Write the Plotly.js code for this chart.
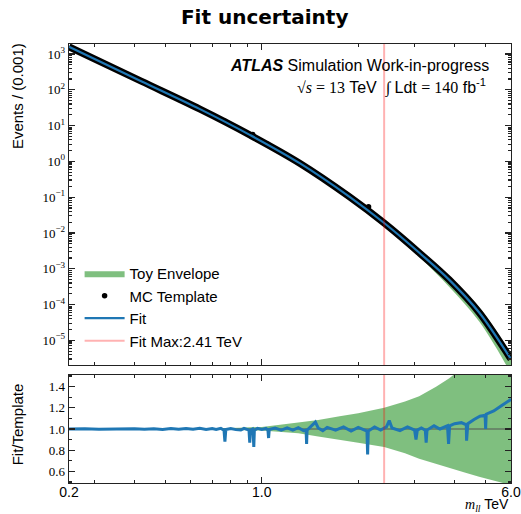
<!DOCTYPE html>
<html><head><meta charset="utf-8">
<script src="https://cdn.plot.ly/plotly-3.0.1.min.js"></script>
<style>html,body{margin:0;padding:0;background:#fff}#chart{width:521px;height:514px}</style>
</head><body><div id="chart"></div><script>
// ---- data ----
const xLimits = [0.25, 6.0];
const xTickVals = [0.25, 1.0, 6.0];
const xTickText = ['0.2', '1.0', '6.0'];
const yTickVals = [1e-5, 1e-4, 1e-3, 1e-2, 1e-1, 1, 10, 100, 1000];
const yTickText = ['10<sup>\u22125</sup>','10<sup>\u22124</sup>','10<sup>\u22123</sup>','10<sup>\u22122</sup>','10<sup>\u22121</sup>','10<sup>0</sup>','10<sup>1</sup>','10<sup>2</sup>','10<sup>3</sup>'];
const yLimits = [2.05e-6, 1900];
const ratioLimits = [0.49, 1.51];
const ratioTickVals = [0.6, 0.8, 1.0, 1.2, 1.4];
const fitMax = 2.41;

const massX     = [0.25, 0.42, 0.641, 0.917, 1.313, 1.88, 2.41, 3.11, 3.85, 4.78, 5.93, 6.0];
const fitY      = [1585, 174, 28.8, 5.5, 0.89, 0.102, 0.019, 0.00275, 0.00049, 5.9e-5, 3.5e-6, 3.0e-6];
const templateY = [1585, 174, 28.8, 5.5, 0.89, 0.102, 0.019, 0.00275, 0.00049, 5.9e-5, 3.5e-6, 3.0e-6];
const envTopLo  = [1580, 173, 28.6, 5.45, 0.86, 0.090, 0.0155, 0.0021, 0.00031, 3.3e-5, 1.4e-6, 1.1e-6];
const envTopUp  = [1590, 175, 29.0, 5.55, 0.92, 0.112, 0.022, 0.0032, 0.00061, 8.3e-5, 5.2e-6, 4.5e-6];

const templateDotX = [0.767, 0.937, 1.044, 1.381, 2.154];
const templateDotY = [13.2, 5.6, 3.0, 0.66, 0.054];

const envRatioX  = [0.25, 0.5, 0.7, 0.85, 1.0, 1.14, 1.3, 1.5, 1.75, 2.0, 2.41, 2.8, 3.1, 3.5, 3.85, 4.3, 4.77, 5.4, 6.0];
const envRatioUp = [1.003, 1.004, 1.006, 1.012, 1.02, 1.04, 1.06, 1.085, 1.12, 1.15, 1.2, 1.26, 1.31, 1.4, 1.48, 1.6, 1.7, 1.8, 1.9];
const envRatioLo = [0.997, 0.996, 0.994, 0.99, 0.985, 0.975, 0.96, 0.93, 0.9, 0.87, 0.83, 0.77, 0.72, 0.67, 0.63, 0.59, 0.55, 0.51, 0.47];

const ratioX = [0.25,0.28,0.31,0.34,0.37,0.40,0.43,0.46,0.49,0.52,0.55,0.58,0.61,0.64,0.67,0.70,
  0.72,0.745,0.762,0.767,0.772,0.80,0.83,0.86,0.88,0.90,0.912,0.917,0.922,0.935,0.94,0.944,0.948,0.97,
  1.0,1.03,1.045,1.05,1.055,1.1,1.15,1.2,1.25,1.3,1.35,1.375,1.38,1.385,1.42,1.47,1.5,1.55,1.6,1.7,1.8,1.9,
  2.0,2.1,2.13,2.14,2.15,2.25,2.35,2.45,2.5,2.55,2.7,2.85,3.0,3.03,3.06,3.15,3.24,3.26,3.28,3.45,3.6,3.8,
  3.83,3.86,4.0,4.2,4.35,4.36,4.4,4.6,4.8,4.98,5.0,5.02,5.3,5.6,6.0];
const ratioY = [1.0,1.003,0.998,1.002,0.999,1.003,0.997,1.002,0.996,1.004,0.998,1.005,0.997,1.006,0.996,1.004,
  0.995,1.006,0.99,0.88,0.995,1.005,0.994,0.99,1.006,0.993,0.99,0.87,0.99,1.0,0.96,0.83,0.99,1.006,
  0.995,1.005,0.99,0.915,0.995,1.008,0.99,1.01,0.99,1.012,0.985,0.99,0.86,0.99,1.02,1.065,1.01,0.985,1.015,0.99,1.02,0.98,
  1.015,0.985,0.98,0.76,0.98,1.02,0.99,1.02,1.08,1.01,0.985,1.02,0.99,0.9,0.99,1.01,0.99,0.87,0.99,1.03,1.0,1.03,
  0.86,1.03,1.05,1.06,1.04,0.89,1.05,1.09,1.12,1.13,1.0,1.14,1.17,1.22,1.28];
const refLine = [1.0, 1.0];

// ---- traces ----
const green = 'rgba(0,128,0,0.5)';
const blue = '#1f77b4';
const pink = 'rgba(255,0,0,0.3)';
const traces = [
  {x: massX, y: envTopLo, mode:'lines', line:{width:0, color:green, shape:'spline', smoothing:1}, showlegend:false, hoverinfo:'skip', xaxis:'x', yaxis:'y', legendgroup:'a'},
  {x: massX, y: envTopUp, mode:'lines', line:{width:0, color:green, shape:'spline', smoothing:1}, fill:'tonexty', fillcolor:green, name:'Toy Envelope', xaxis:'x', yaxis:'y', legendgroup:'a'},
  {x: massX, y: templateY, mode:'lines', line:{width:7, color:'#000', shape:'spline', smoothing:1}, showlegend:false, xaxis:'x', yaxis:'y', legendgroup:'b'},
  {x: templateDotX, y: templateDotY, mode:'markers', marker:{size:5.5, color:'#000'}, name:'MC Template', xaxis:'x', yaxis:'y', legendgroup:'b'},
  {x: massX, y: fitY, mode:'lines', line:{width:2.2, color:blue, shape:'spline', smoothing:1}, name:'Fit', xaxis:'x', yaxis:'y', legendgroup:'c'},
  {x: [fitMax, fitMax], y: yLimits, mode:'lines', line:{width:2, color:pink}, name:'Fit Max:2.41 TeV', xaxis:'x', yaxis:'y', legendgroup:'d'},
  // ratio panel
  {x: envRatioX, y: envRatioLo, mode:'lines', line:{width:0, color:green}, showlegend:false, xaxis:'x2', yaxis:'y2'},
  {x: envRatioX, y: envRatioUp, mode:'lines', line:{width:0, color:green}, fill:'tonexty', fillcolor:green, showlegend:false, xaxis:'x2', yaxis:'y2'},
  {x: xLimits, y: refLine, mode:'lines', line:{width:1.2, color:'#555'}, showlegend:false, xaxis:'x2', yaxis:'y2'},
  {x: ratioX, y: ratioY, mode:'lines', line:{width:3, color:blue}, showlegend:false, xaxis:'x2', yaxis:'y2'},
  {x: [fitMax, fitMax], y: ratioLimits, mode:'lines', line:{width:2, color:pink}, showlegend:false, xaxis:'x2', yaxis:'y2'}
];

// ---- layout ----
const L = Math.log10;
const minorX = [0.3,0.4,0.5,0.6,0.7,0.8,0.9,2,3,4,5];
const minorY = [];
for (let e = -6; e <= 3; e++) for (let d = 2; d <= 9; d++) minorY.push(d * Math.pow(10, e));
const axCommon = {showline:true, mirror:'allticks', linecolor:'#222', linewidth:1.3, ticks:'inside',
  ticklen:6, tickwidth:1.2, tickcolor:'#222', showgrid:false, zeroline:false};
const serif = 'Liberation Serif, DejaVu Serif, serif';
const sans = 'Liberation Sans, Arial, sans-serif';

const layout = {
  width:521, height:514,
  margin:{l:69, r:10, t:44, b:31},
  paper_bgcolor:'#fff', plot_bgcolor:'#fff',
  font:{family:sans, color:'#000', size:14},
  showlegend:true,
  title:{text:'<b>Fit uncertainty</b>', font:{family:'DejaVu Sans, sans-serif', size:20, color:'#000'},
    x:0.508, xref:'container', xanchor:'center', y:0.966, yref:'container', yanchor:'middle'},
  xaxis: Object.assign({}, axCommon, {type:'log', range:[L(xLimits[0]), L(xLimits[1])], anchor:'y',
    tickmode:'array', tickvals:xTickVals, showticklabels:false,
    minor:{tickmode:'array', tickvals:minorX, ticks:'inside', ticklen:3, tickcolor:'#222', showgrid:false}}),
  yaxis: Object.assign({}, axCommon, {type:'log', domain:[0.2688, 1], range:[L(yLimits[0]), L(yLimits[1])],
    tickmode:'array', tickvals:yTickVals, ticktext:yTickText, tickfont:{family:serif, size:13},
    minor:{tickmode:'array', tickvals:minorY, ticks:'inside', ticklen:3, tickcolor:'#222', showgrid:false}}),
  xaxis2: Object.assign({}, axCommon, {type:'log', range:[L(xLimits[0]), L(xLimits[1])], anchor:'y2',
    tickmode:'array', tickvals:xTickVals, ticktext:xTickText, tickfont:{family:sans, size:14}, ticklabelstandoff:-4,
    minor:{tickmode:'array', tickvals:minorX, ticks:'inside', ticklen:3, tickcolor:'#222', showgrid:false}}),
  yaxis2: Object.assign({}, axCommon, {domain:[0, 0.246], range:ratioLimits, tickmode:'array',
    tickvals:ratioTickVals, tickformat:'.1f', tickfont:{family:serif, size:13},
    minor:{dtick:0.1, ticks:'inside', ticklen:3, tickcolor:'#222', showgrid:false}}),
  legend:{x:0.024, y:0.515, xanchor:'left', yanchor:'top', bgcolor:'rgba(0,0,0,0)',
    font:{family:sans, size:15, color:'#000'}, itemwidth:40, tracegroupgap:0, traceorder:'grouped'},
  annotations:[
    {xref:'paper', yref:'paper', x:0.955, y:0.952, xanchor:'right', yanchor:'middle', showarrow:false,
     text:'<b><i>ATLAS</i></b> Simulation Work-in-progress', font:{family:sans, size:16, color:'#000'}},
    {xref:'paper', yref:'paper', x:0.948, y:0.901, xanchor:'right', yanchor:'middle', showarrow:false,
     text:'<span style="font-family:Liberation Serif">\u221A<i>s</i> = 13</span> TeV  <span style="font-family:Liberation Serif">\u222B</span> Ldt <span style="font-family:Liberation Serif">= 140</span> fb<sup>-1</sup>',
     font:{family:sans, size:16, color:'#000'}},
    {xref:'paper', yref:'paper', x:-0.116, y:1.006, xanchor:'center', yanchor:'top', textangle:-90, showarrow:false,
     text:'Events / (0.001)', font:{family:sans, size:15, color:'#000'}},
    {xref:'paper', yref:'paper', x:-0.116, y:0.133, xanchor:'center', yanchor:'middle', textangle:-90, showarrow:false,
     text:'Fit/Template', font:{family:sans, size:15, color:'#000'}},
    {xref:'paper', yref:'paper', x:1.0, y:-0.05, xanchor:'right', yanchor:'middle', showarrow:false,
     text:'<span style="font-family:Liberation Serif"><i>m<sub>ll</sub></i></span> TeV', font:{family:sans, size:14, color:'#000'}}
  ]
};

Plotly.newPlot('chart', traces, layout, {displayModeBar:false, staticPlot:true});
</script></body></html>
